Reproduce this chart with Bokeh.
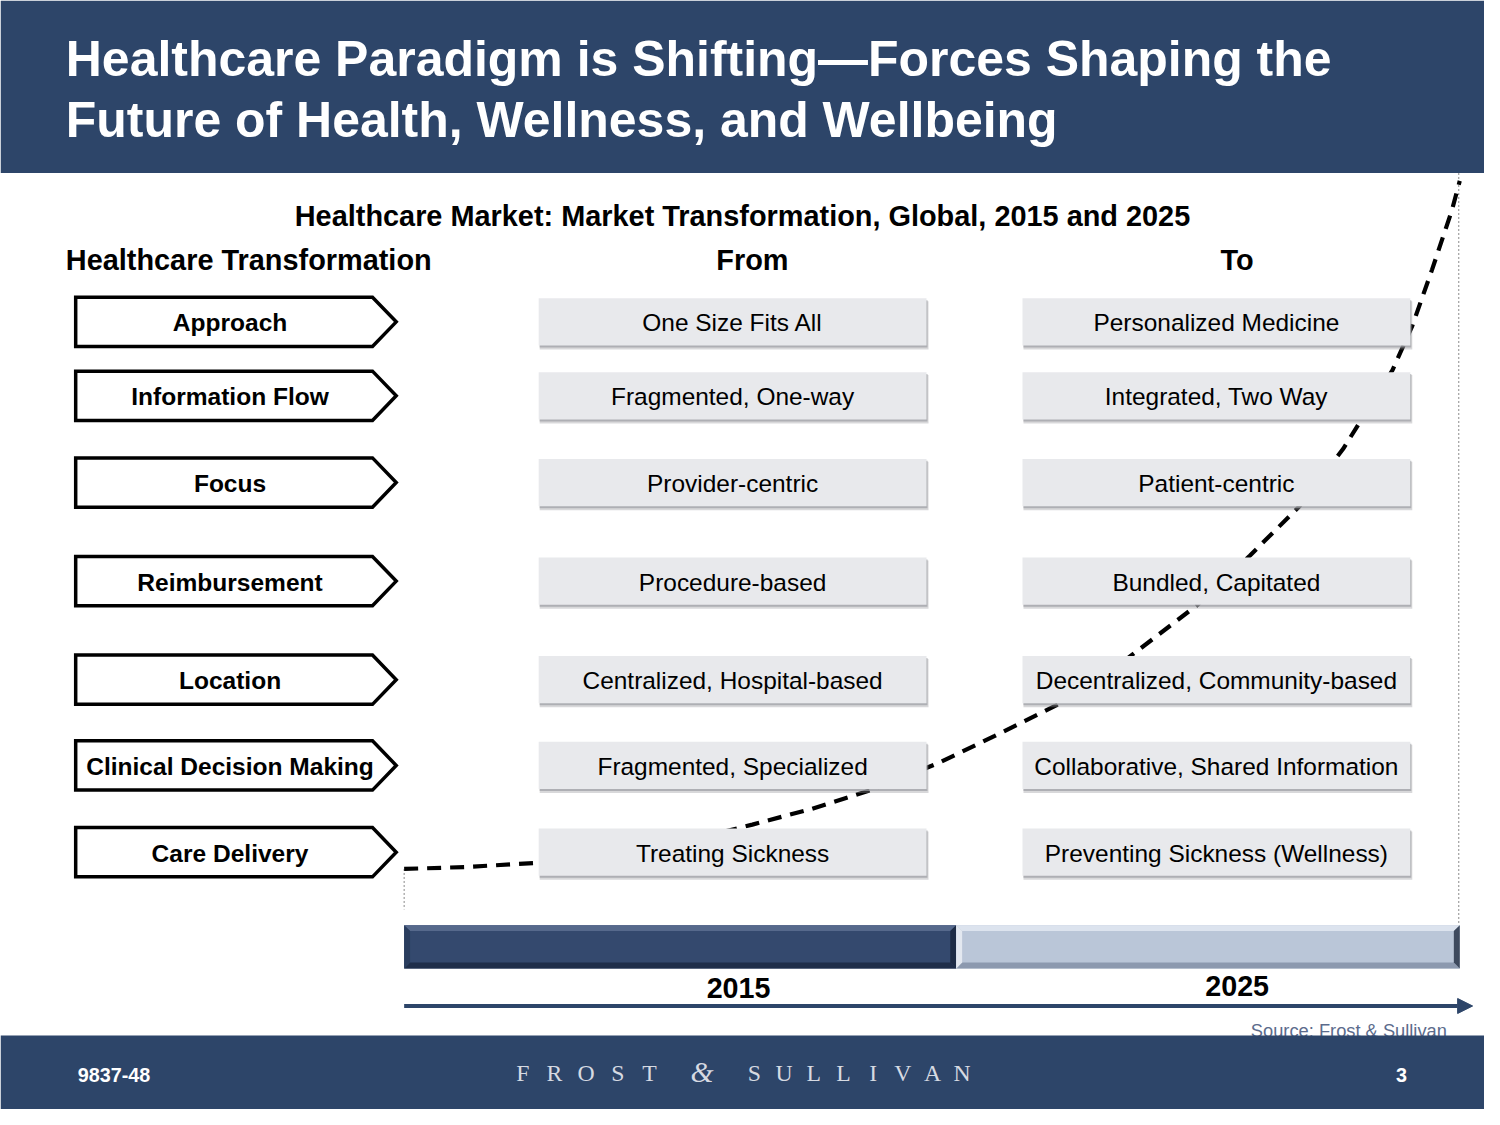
from bokeh.plotting import figure
from bokeh.models import Range1d, Arrow, NormalHead
from bokeh.core.properties import value
from bokeh.embed import file_html
from bokeh.resources import INLINE

# ---------------- data ----------------
title_lines = ["Healthcare Paradigm is Shifting\u2014Forces Shaping the",
               "Future of Health, Wellness, and Wellbeing"]
subtitle = "Healthcare Market: Market Transformation, Global, 2015 and 2025"
col_headers = ["Healthcare Transformation", "From", "To"]
categories = ["Approach", "Information Flow", "Focus", "Reimbursement",
              "Location", "Clinical Decision Making", "Care Delivery"]
from_labels = ["One Size Fits All", "Fragmented, One-way", "Provider-centric",
               "Procedure-based", "Centralized, Hospital-based",
               "Fragmented, Specialized", "Treating Sickness"]
to_labels = ["Personalized Medicine", "Integrated, Two Way", "Patient-centric",
             "Bundled, Capitated", "Decentralized, Community-based",
             "Collaborative, Shared Information", "Preventing Sickness (Wellness)"]
years = ["2015", "2025"]
# schematic transformation curve
curve_x = [408, 470, 540, 600, 660, 720, 760, 820, 880, 947, 1005, 1067, 1110,
           1150, 1210, 1263, 1313, 1357, 1377, 1407, 1427, 1447, 1467, 1475]
curve_y = [881, 879, 875, 868, 858, 846, 836, 820, 801, 774, 746, 715, 690,
           659, 613, 563, 513, 455, 423, 375, 330, 273, 213, 183]
source_note = "Source: Frost & Sullivan"
doc_id = "9837-48"
page_no = "3"
logo_left = "FROST"
logo_amp = "&"
logo_right = "SULLIVAN"

# ---------------- layout ----------------
W, H = 1500, 1125
PW, PH = 1484, 1109
S = PW / W
ROWS = [326, 401, 489, 589, 689, 776, 864]
NAVY = "#2D4569"
FONT = "Liberation Sans"

p = figure(width=PW, height=PH, x_range=Range1d(0, W), y_range=Range1d(H, 0),
           output_backend="svg", toolbar_location=None, min_border=0,
           x_axis_location=None, y_axis_location=None, outline_line_color=None,
           background_fill_color="white", border_fill_color="white")
p.xgrid.visible = False
p.ygrid.visible = False


def fs(px):
    return value(f"{px * S:.2f}px")


def txt(x, y, t, size, color="black", bold=False, align="center",
        font=FONT, style=None):
    p.text(x=x, y=y, text=t, text_font=value(font), text_font_size=fs(size),
           text_font_style=style or ("bold" if bold else "normal"),
           text_color=color, text_align=align, text_baseline="middle")


# header band
p.quad(left=0, right=W, top=0, bottom=175, fill_color=NAVY, line_color=None)
txt([66, 66], [59, 121], title_lines, 50.5, color="white", bold=True, align="left")

# subtitle & column headers
txt([750], [219], [subtitle], 29.2, bold=True)
txt([66], [263], [col_headers[0]], 29.2, bold=True, align="left")
txt([760, 1250], [263, 263], col_headers[1:], 29.2, bold=True)

# dotted guide lines
p.line(x=[408, 408], y=[881, 922], line_color="#8A8A8A", line_width=1, line_dash="2 2")
p.line(x=[1474, 1474], y=[175, 940], line_color="#8A8A8A", line_width=1, line_dash="2 2")

# transformation curve (behind the boxes)
p.line(x=curve_x, y=curve_y, line_color="black", line_width=4.2, line_dash="14 9")

# left pentagon arrows
xs, ys = [], []
for cy in ROWS:
    xs.append([76, 376, 400, 376, 76])
    ys.append([cy - 25, cy - 25, cy, cy + 25, cy + 25])
p.patches(xs=xs, ys=ys, fill_color="white", line_color="black", line_width=3.5,
          line_join="miter")
txt([232] * len(ROWS), [r + 1 for r in ROWS], categories, 24.8, bold=True)

# gray boxes with shadow
for x0, x1, labels in [(544, 936, from_labels), (1033, 1425, to_labels)]:
    top = [r - 24 for r in ROWS]
    bot = [r + 24 for r in ROWS]
    p.quad(left=x0 + 1, right=x1 + 2, top=[t + 3 for t in top], bottom=[b + 4 for b in bot],
           fill_color="#8E9096", fill_alpha=0.35, line_color=None)
    p.quad(left=x0 + 1, right=x1 + 1, top=[t + 2 for t in top], bottom=[b + 2 for b in bot],
           fill_color="#9C9EA4", fill_alpha=0.7, line_color=None)
    p.quad(left=x0, right=x1, top=top, bottom=bot, fill_color="#E8E9EC", line_color=None)
    txt([(x0 + x1) / 2] * len(ROWS), [r + 1 for r in ROWS], labels, 24.7)


# bottom timeline bar with bevels
def bevel_bar(x0, x1, y0, y1, main, light, dark, side_l, side_r, b=6):
    p.quad(left=x0, right=x1, top=y0, bottom=y1, fill_color=main, line_color=None)
    p.patch(x=[x0, x1, x1 - b, x0 + b], y=[y0, y0, y0 + b, y0 + b], fill_color=light, line_color=None)
    p.patch(x=[x0, x1, x1 - b, x0 + b], y=[y1, y1, y1 - b, y1 - b], fill_color=dark, line_color=None)
    p.patch(x=[x0, x0 + b, x0 + b, x0], y=[y0, y0 + b, y1 - b, y1], fill_color=side_l, line_color=None)
    p.patch(x=[x1, x1 - b, x1 - b, x1], y=[y0, y0 + b, y1 - b, y1], fill_color=side_r, line_color=None)


bevel_bar(408, 966, 938, 982, "#34496E", "#56698C", "#1F2E4A", "#2A3D5E", "#1E2C46")
bevel_bar(966, 1475, 938, 982, "#BAC6D8", "#DCE3EE", "#8C99AF", "#E3E8F0", "#3E4A5E")

txt([746, 1250], [1002, 1000], years, 29, bold=True)

# timeline arrow
p.add_layout(Arrow(end=NormalHead(size=15, fill_color=NAVY, line_color=NAVY),
                   x_start=408, y_start=1020, x_end=1488, y_end=1020,
                   line_color=NAVY, line_width=4))

# source note (partly covered by footer)
txt([1462], [1045], [source_note], 18.5, color="#5B6B8C", align="right")

# footer band
p.quad(left=0, right=W, top=1050, bottom=H, fill_color=NAVY, line_color=None)
txt([78], [1090], [doc_id], 20, color="white", bold=True, align="left")
txt([1416], [1090], [page_no], 20, color="white", bold=True)

left_x = [528 + 32 * i for i in range(len(logo_left))]
right_x = [762 + 30 * i for i in range(len(logo_right))]
txt(left_x, [1088] * len(left_x), list(logo_left), 24, color="#D6DAE2",
    font="Liberation Serif")
txt(right_x, [1088] * len(right_x), list(logo_right), 24, color="#D6DAE2",
    font="Liberation Serif")
txt([709], [1087], [logo_amp], 30, color="#D6DAE2", font="Liberation Serif",
    style="italic")

open("out.html", "w").write(file_html(p, INLINE))
